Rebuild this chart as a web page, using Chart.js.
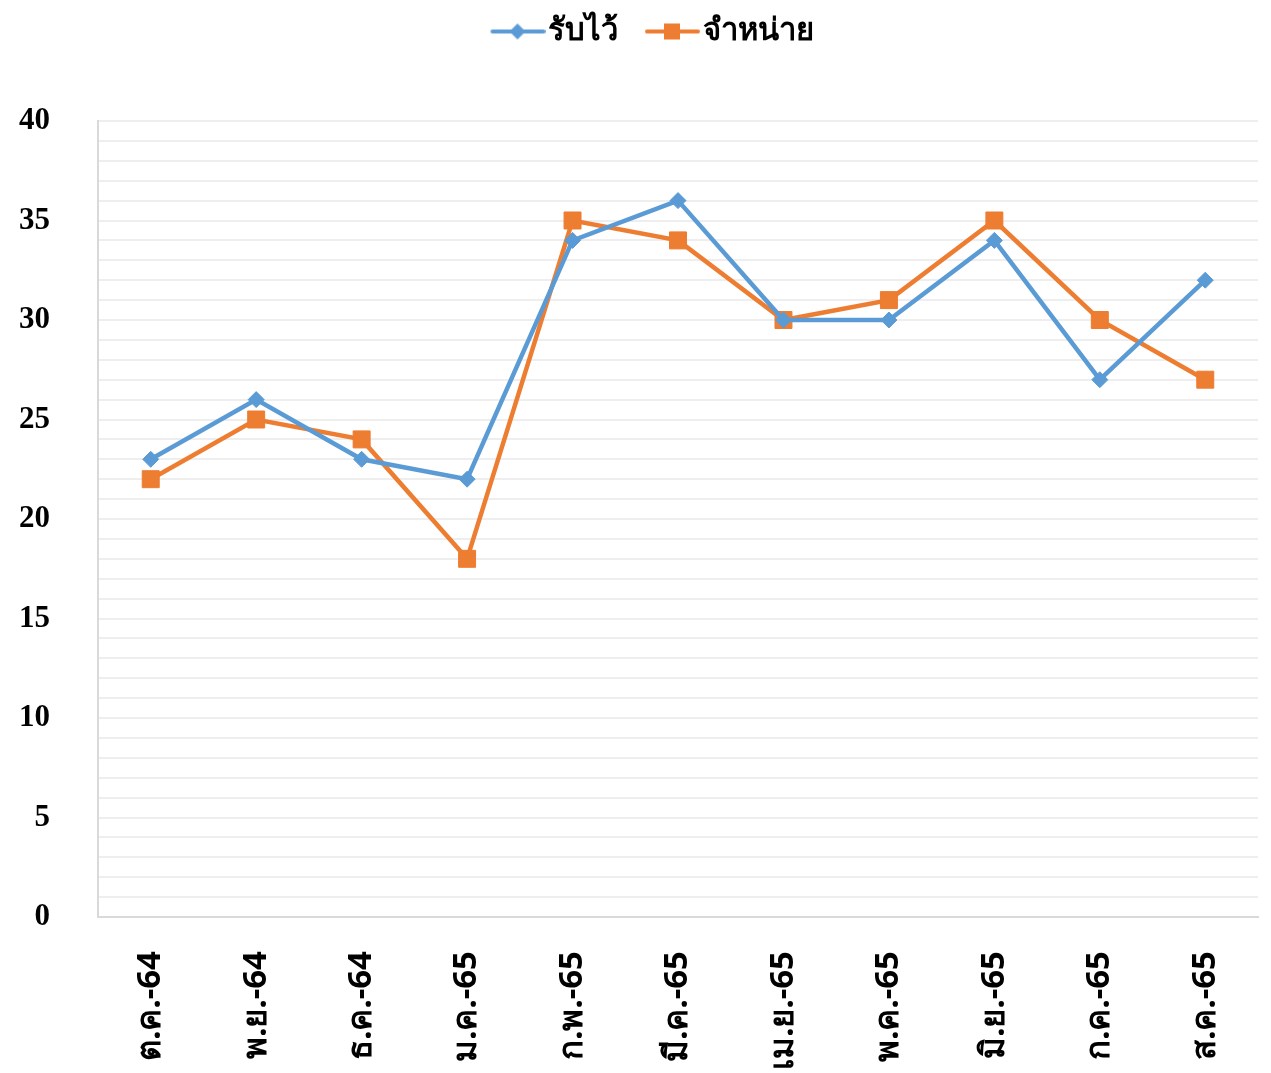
<!DOCTYPE html>
<html>
<head>
<meta charset="utf-8">
<script src="https://cdn.jsdelivr.net/npm/chart.js@4/dist/chart.umd.min.js"></script>
<style>
  html, body { margin: 0; padding: 0; background: #fff; }
  #wrap { width: 1271px; height: 1073px; }
</style>
</head>
<body>
<div id="wrap"><canvas id="myChart" width="1271" height="1073"></canvas></div>
<script>
// months (Thai fiscal year 2565)
var months = ['ต.ค.-64', 'พ.ย.-64', 'ธ.ค.-64', 'ม.ค.-65', 'ก.พ.-65', 'มี.ค.-65',
              'เม.ย.-65', 'พ.ค.-65', 'มิ.ย.-65', 'ก.ค.-65', 'ส.ค.-65'];
var admitted = [23, 26, 23, 22, 34, 36, 30, 30, 34, 27, 32];   // รับไว้
var discharged = [22, 25, 24, 18, 35, 34, 30, 31, 35, 30, 27]; // จำหน่าย
var seriesNames = ['รับไว้', 'จำหน่าย'];

var blue = '#5B9BD5';
var orange = '#ED7D31';

// little line+marker picture for the legend (first 13px left blank on purpose)
function legendIcon(color, marker)
{
    var c = document.createElement('canvas');
    c.width = 68;
    c.height = 18;
    var g = c.getContext('2d');
    g.strokeStyle = color;
    g.lineWidth = 4;
    g.lineCap = 'round';
    g.beginPath();
    g.moveTo(15, 9);
    g.lineTo(66, 9);
    g.stroke();
    g.fillStyle = color;
    if (marker == 'diamond')
    {
        g.beginPath();
        g.moveTo(40, 1);
        g.lineTo(48, 9);
        g.lineTo(40, 17);
        g.lineTo(32, 9);
        g.closePath();
        g.fill();
    }
    else
    {
        g.fillRect(32, 1, 16, 16);
    }
    return c;
}

var icons = [legendIcon(blue, 'diamond'), legendIcon(orange, 'square')];

// push the plot area down below the legend, nudge legend a bit right
var legendGap = {
    id: 'legendGap',
    beforeLayout: function(chart) {
        var leg = chart.legend;
        if (leg && !leg._patched)
        {
            var origFit = leg.fit;
            leg.fit = function() {
                origFit.call(this);
                this.height += 66;
            };
            var origDraw = leg.draw;
            leg.draw = function() {
                var c = this.ctx;
                c.save();
                c.translate(19, 2);
                origDraw.apply(this, arguments);
                c.restore();
            };
            leg._patched = true;
        }
    }
};

var ctx = document.getElementById('myChart').getContext('2d');
var chart = new Chart(ctx, {
    type: 'line',
    data: {
        labels: months,
        datasets: [{
            label: seriesNames[0],
            data: admitted,
            borderColor: blue,
            backgroundColor: blue,
            borderWidth: 4.5,
            pointStyle: 'rectRot',
            pointRadius: 8,
            pointBorderWidth: 1,
            tension: 0
        }, {
            label: seriesNames[1],
            data: discharged,
            borderColor: orange,
            backgroundColor: orange,
            borderWidth: 4.5,
            pointStyle: 'rect',
            pointRadius: 12,
            pointBorderWidth: 1,
            tension: 0
        }]
    },
    plugins: [legendGap],
    options: {
        responsive: false,
        animation: false,
        layout: { padding: { top: -13, right: 5, left: 0, bottom: 0 } },
        plugins: {
            tooltip: { enabled: false },
            legend: {
                position: 'top',
                labels: {
                    usePointStyle: true,
                    pointStyleWidth: 42,
                    padding: 27,
                    color: '#000',
                    font: { family: "'Liberation Serif', 'Noto Sans', serif", size: 31, weight: 'bold' },
                    generateLabels: function(ch) {
                        return ch.data.datasets.map(function(ds, i) {
                            return {
                                text: ds.label,
                                pointStyle: icons[i],
                                fillStyle: ds.borderColor,
                                strokeStyle: ds.borderColor,
                                lineWidth: 0,
                                fontColor: '#000',
                                datasetIndex: i,
                                hidden: false
                            };
                        });
                    }
                }
            }
        },
        scales: {
            x: {
                offset: true,
                grid: { display: false, drawTicks: false },
                border: { display: true, color: '#D9D9D9', width: 2 },
                ticks: {
                    autoSkip: false,
                    minRotation: 90,
                    maxRotation: 90,
                    padding: 34,
                    color: '#000',
                    font: { family: "'Noto Sans', 'DejaVu Sans', sans-serif", size: 33, weight: 'bold' }
                },
                afterFit: function(scale) {
                    scale.height = 156;
                    scale.paddingLeft = 0;
                    scale.paddingRight = 0;
                }
            },
            y: {
                min: 0,
                max: 40,
                grid: { color: '#EEEEEE', lineWidth: 2, drawTicks: false },
                border: { display: true, color: '#D9D9D9', width: 2 },
                ticks: {
                    stepSize: 1,
                    autoSkip: false,
                    padding: 48,
                    color: '#000',
                    font: { family: "'Liberation Serif', serif", size: 31, weight: 'bold' },
                    callback: function(v) { return v % 5 == 0 ? v : ''; }
                },
                afterFit: function(scale) { scale.width = 98; }
            }
        }
    }
});
</script>
</body>
</html>
